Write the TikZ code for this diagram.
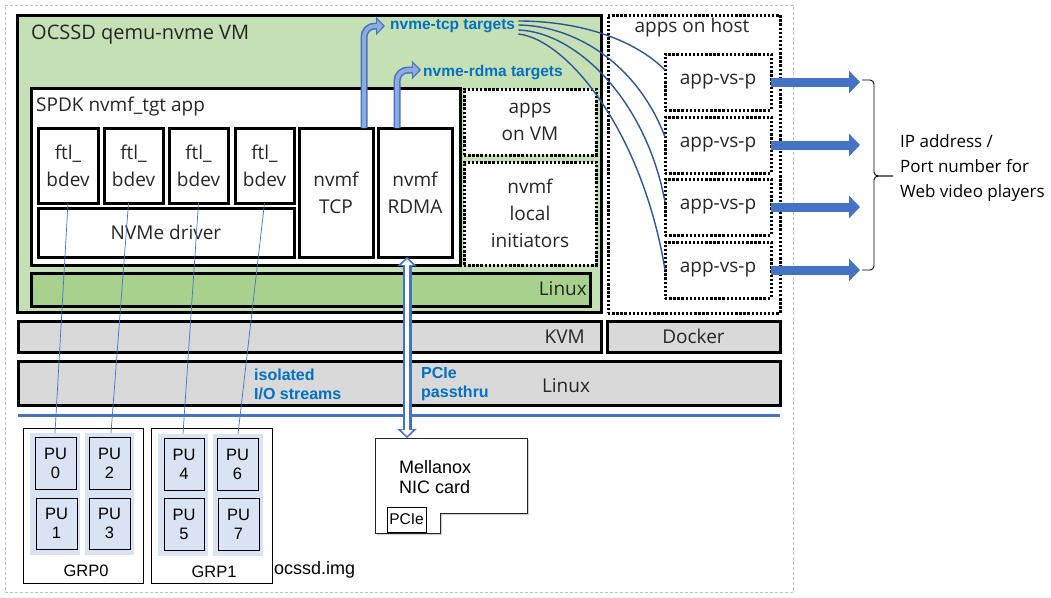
\documentclass[tikz,border=0pt]{standalone}
\usepackage{fontspec}
\setmainfont{Open Sans}
\newfontfamily\arialf{Liberation Sans}
\usetikzlibrary{arrows.meta,calc}
\definecolor{vmgreen}{HTML}{C5E0B4}
\definecolor{lingreen}{HTML}{A9D18E}
\definecolor{barGray}{HTML}{D9D9D9}
\definecolor{ablue}{HTML}{4472C4}
\definecolor{lblue}{HTML}{8FAADC}
\definecolor{tblue}{HTML}{0070C0}
\definecolor{cblue}{HTML}{2F5597}
\definecolor{pufill}{HTML}{DAE3F3}
\definecolor{txt}{HTML}{262626}
\newcommand{\bxnode}[7]{%
  \pgfmathsetmacro{\bxw}{#5-(#3)}%
  \pgfmathsetmacro{\bxh}{#6-(#4)}%
  \node[inner sep=0pt,outer sep=0pt,anchor=north west,minimum width=\bxw pt,minimum height=\bxh pt,#1] (#2) at (#3,#4) {#7};}
\tikzset{
  hbox/.style={draw=black,line width=3pt},
  dbox/.style={draw=black,line width=3pt,dash pattern=on 2.4pt off 1.7pt,fill=white},
  seg/.style={font=\fontsize{19}{27}\selectfont,text=txt,align=center},
  ar/.style={font=\arialf\fontsize{16.5}{19}\selectfont,text=black,align=center},
  bl/.style={font=\arialf\bfseries\fontsize{15.5}{19}\selectfont,text=tblue,align=left,inner sep=0pt},
  pubox/.style={draw=black,line width=0.8pt,fill=pufill,ar},
  fat/.style={ablue,line width=9pt,-{Triangle[length=11pt,width=22pt]}},
  curv/.style={cblue,line width=1.4pt},
  thin/.style={ablue,line width=0.7pt},
}
\begin{document}
\begin{tikzpicture}[x=1pt,y=-1pt]
\useasboundingbox (0,0) rectangle (1051,597);
\fill[white] (0,0) rectangle (1051,597);
% outer dashed frame
\bxnode{draw=black!25,line width=0.8pt,dash pattern=on 3pt off 2pt}{outer}{5}{5}{793}{592}{}
% VM
\bxnode{hbox,fill=vmgreen}{vm}{17}{15}{601}{312}{}
\node[seg,anchor=west,inner sep=0pt,font=\fontsize{20}{24}\selectfont] (vmt) at (31,35) {OCSSD qemu-nvme VM};
% SPDK
\bxnode{hbox,fill=white}{spdk}{31}{88}{460}{265}{}
\node[seg,anchor=west,inner sep=0pt] (spdkt) at (36,107) {SPDK nvmf\_tgt app};
\bxnode{hbox,fill=white,seg}{f1}{38}{128}{98}{203}{ftl\_\\bdev}
\bxnode{hbox,fill=white,seg}{f2}{104}{128}{163}{203}{ftl\_\\bdev}
\bxnode{hbox,fill=white,seg}{f3}{169}{128}{228}{203}{ftl\_\\bdev}
\bxnode{hbox,fill=white,seg}{f4}{235}{128}{294}{203}{ftl\_\\bdev}
\bxnode{hbox,fill=white,seg}{nvme}{38}{208}{294}{257}{NVMe driver}
\bxnode{hbox,fill=white,seg}{tcp}{299}{128}{373}{257}{nvmf\\TCP}
\bxnode{hbox,fill=white,seg}{rdma}{378}{128}{452}{257}{nvmf\\RDMA}
\bxnode{dbox,seg}{avm}{464}{89}{596}{155}{apps\\on VM}
\bxnode{dbox,seg}{nli}{464}{162}{596}{265}{nvmf\\local\\initiators}
% Linux VM bar
\bxnode{hbox,fill=lingreen}{lvm}{31}{273}{590}{306}{}
\node[seg,anchor=east,inner sep=0pt] (lvmt) at (587,289) {Linux};
% KVM, Docker, Linux host
\bxnode{hbox,fill=barGray}{kvm}{18}{321}{601}{352}{}
\node[seg,anchor=east,inner sep=0pt] (kvmt) at (585,337) {KVM};
\bxnode{hbox,fill=barGray,seg}{dock}{607}{321}{780}{352}{Docker}
\bxnode{hbox,fill=barGray}{lh}{18}{361}{780}{405}{}
\node[seg,inner sep=0pt] (lht) at (566,386) {Linux};
\coordinate (bl1) at (18,415);
\coordinate (bl2) at (780,415);
\draw[ablue,line width=3pt] (bl1) -- (bl2);
% apps on host
\bxnode{dbox}{aoh}{608}{15}{780}{313}{}
\node[seg,inner sep=0pt] (aoht) at (692,28) {apps on host};
\bxnode{dbox,seg}{a1}{665}{54}{771}{110}{app-vs-p}
\bxnode{dbox,seg}{a2}{665}{117}{771}{173}{app-vs-p}
\bxnode{dbox,seg}{a3}{665}{179}{771}{235}{app-vs-p}
\bxnode{dbox,seg}{a4}{665}{242}{771}{298}{app-vs-p}
% PU groups
\bxnode{draw=black,line width=0.8pt}{grp0}{23}{428}{143}{583}{}
\bxnode{draw=black,line width=0.8pt}{grp1}{151}{428}{272}{583}{}
\bxnode{fill=pufill}{c0}{30}{433}{80}{555}{}
\bxnode{fill=pufill}{c1}{85}{433}{134}{555}{}
\bxnode{fill=pufill}{c2}{158}{434}{208}{556}{}
\bxnode{fill=pufill}{c3}{213}{434}{263}{556}{}
\bxnode{pubox}{pu0}{35}{437}{76}{489}{PU\\0}
\bxnode{pubox}{pu1}{36}{498}{77}{549}{PU\\1}
\bxnode{pubox}{pu2}{89}{437}{130}{489}{PU\\2}
\bxnode{pubox}{pu3}{89}{498}{130}{549}{PU\\3}
\bxnode{pubox}{pu4}{164}{438}{204}{490}{PU\\4}
\bxnode{pubox}{pu5}{164}{498}{204}{550}{PU\\5}
\bxnode{pubox}{pu6}{217}{438}{258}{490}{PU\\6}
\bxnode{pubox}{pu7}{218}{498}{259}{550}{PU\\7}
\node[ar] (g0t) at (86,571) {GRP0};
\node[ar] (g1t) at (214,572) {GRP1};
\node[anchor=west,inner sep=0pt,font=\arialf\fontsize{18}{20}\selectfont] (img) at (274,570) {ocssd.img};
% Mellanox card
\fill[black!18] (377,440) -- (529,440) -- (529,515) -- (442,515) -- (442,535) -- (377,535) -- cycle;
\draw[fill=white,draw=black!85,line width=1pt] (375,438) -- (527,438) -- (527,513) -- (440,513) -- (440,533) -- (375,533) -- cycle;
\coordinate (cardtop) at (407,438);
\bxnode{draw=black,line width=0.8pt,fill=white,ar,font=\arialf\fontsize{15.5}{19}\selectfont}{pcie}{387}{507}{426}{532}{PCIe}
\node[anchor=west,align=left,inner sep=0pt,font=\arialf\fontsize{18}{20.5}\selectfont] (mlx) at (399,477) {Mellanox\\NIC card};
% blue labels
\node[bl,anchor=west] (tcpl) at (390,26) {nvme-tcp targets};
\node[bl,anchor=west] (rdmal) at (423,73) {nvme-rdma targets};
\node[bl,anchor=west,font=\arialf\bfseries\fontsize{16}{19}\selectfont] (iso) at (254,384) {isolated\\I/O streams};
\node[bl,anchor=west,font=\arialf\bfseries\fontsize{16}{19}\selectfont] (pcl) at (421,384) {PCIe\\passthru};
% ftl -> PU lines
\draw[thin] (f1.south) -- (c0.north);
\draw[thin] ([xshift=-5pt]f2.south) -- ([xshift=1.5pt]c1.north);
\draw[thin] (f3.south) -- (c2.north);
\draw[thin] (f4.south) -- (c3.north);
% PCIe passthru arrow
\coordinate (pa) at ($(rdma.south)+(-8,0)$);
\draw[ablue,line width=9pt,{Triangle[length=9pt,width=19pt]}-{Triangle[length=9pt,width=19pt]}] (pa) -- (cardtop);
\draw[white,line width=4pt,shorten <=2.2pt,shorten >=2.2pt,{Triangle[length=6pt,width=12pt]}-{Triangle[length=6pt,width=12pt]}] (pa) -- (cardtop);
% bent arrows
\coordinate (tcpo) at ($(tcp.north east)+(-9,0)$);
\coordinate (tcpt) at (385,26);
\draw[ablue,line width=7pt,rounded corners=11pt,-{Triangle[length=9pt,width=18pt]}] (tcpo) |- (tcpt);
\draw[lblue,line width=4pt,rounded corners=11pt,shorten >=1.8pt,-{Triangle[length=6pt,width=12pt]}] (tcpo) |- (tcpt);
\coordinate (rdo) at ($(rdma.north west)+(19,0)$);
\coordinate (rdt) at (421,70);
\draw[ablue,line width=7pt,rounded corners=11pt,-{Triangle[length=9pt,width=18pt]}] (rdo) |- (rdt);
\draw[lblue,line width=4pt,rounded corners=11pt,shorten >=1.8pt,-{Triangle[length=6pt,width=12pt]}] (rdo) |- (rdt);
% curves to apps
\draw[curv] ($(tcpl.east)+(3,-5)$) .. controls +(63,0) and +(-30,-30) .. ([yshift=12pt]a1.west);
\draw[curv] ($(tcpl.east)+(3,-1)$) .. controls +(63,1) and +(-25,-67) .. ([yshift=8pt]a2.west);
\draw[curv] ($(tcpl.east)+(3,4)$) .. controls +(58,2) and +(-19,-102) .. ([yshift=5pt]a3.west);
\draw[curv] ($(tcpl.east)+(3,8)$) .. controls +(48,5) and +(-23,-140) .. (a4.west);
% fat arrows
\coordinate (t1) at (860,82);
\coordinate (t2) at (860,145);
\coordinate (t3) at (860,207);
\coordinate (t4) at (860,270);
\draw[fat] (a1.east) -- (t1);
\draw[fat] (a2.east) -- (t2);
\draw[fat] (a3.east) -- (t3);
\draw[fat] (a4.east) -- (t4);
% brace
\coordinate (bmid) at (874,176);
\coordinate (btip) at (893,176);
\draw[black,line width=0.9pt,rounded corners=4pt] ([xshift=2pt,yshift=2pt]t1) -| (bmid) -- (btip);
\draw[black,line width=0.9pt,rounded corners=4pt] ([xshift=2pt]t4) -| (bmid) -- (btip);
\node[anchor=west,align=left,inner sep=0pt,font=\fontsize{17}{25}\selectfont] (ipt) at (900,168) {IP address /\\Port number for\\Web video players};
\end{tikzpicture}
\end{document}
